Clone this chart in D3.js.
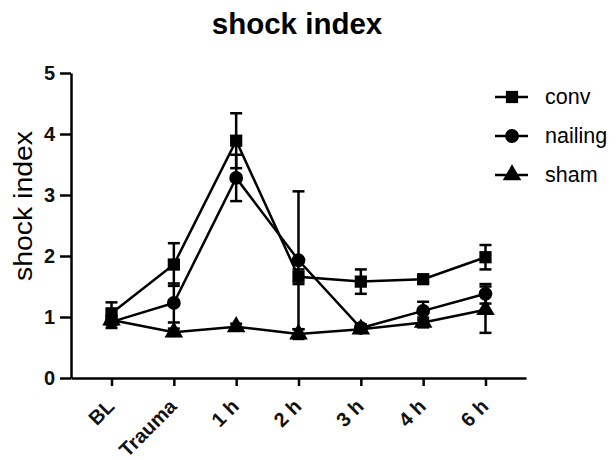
<!DOCTYPE html>
<html>
<head>
<meta charset="utf-8">
<script src="https://cdn.jsdelivr.net/npm/d3@7"></script>
<style>
  body { margin: 0; background: #fff; }
  text { font-family: "Liberation Sans", Arial, sans-serif; }
</style>
</head>
<body>
<div class="container"></div>
<script>
// data
const times = ['BL', 'Trauma', '1 h', '2 h', '3 h', '4 h', '6 h'];
const conv = [1.06, 1.86, 3.89, 1.66, 1.58, 1.62, 1.98];
const convErr = [0.18, 0.35, 0.45, 0.12, 0.2, 0.05, 0.2];
const nailing = [0.92, 1.23, 3.28, 1.93, 0.82, 1.1, 1.38];
const nailingErr = [0.1, 0.32, 0.38, 1.13, 0.06, 0.15, 0.16];
const sham = [0.95, 0.75, 0.84, 0.72, 0.8, 0.91, 1.12];
const shamErr = [0.06, 0.06, 0.05, 0.08, 0.05, 0.08, 0.38];
const yTicks = [0, 1, 2, 3, 4, 5];

const series = [
  {name: 'conv', values: conv, err: convErr, symbol: d3.symbolSquare},
  {name: 'nailing', values: nailing, err: nailingErr, symbol: d3.symbolCircle},
  {name: 'sham', values: sham, err: shamErr, symbol: d3.symbolTriangle}
];

// initial setup
const w = 616;
const h = 460;
const [margin_top, margin_left, margin_bottom, margin_right] = [73, 71, 82, 90];
const plotWidth = w - margin_left - margin_right;
const plotHeight = h - margin_top - margin_bottom;

const svg = d3.select('.container')
              .append('svg')
              .attr('width', w)
              .attr('height', h);
const plot = svg.append('g')
                .attr('transform', `translate(${margin_left}, ${margin_top})`);

const x = d3.scalePoint()
            .domain(times)
            .range([0, plotWidth])
            .padding(0.65);
const y = d3.scaleLinear()
            .domain([0, 5])
            .range([plotHeight, 0]);

// axes
const xAxis = d3.axisBottom(x).tickSize(8).tickSizeOuter(0);
const yAxis = d3.axisLeft(y)
                .tickValues(yTicks)
                .tickFormat(d3.format('d'))
                .tickSize(11)
                .tickSizeOuter(0)
                .tickPadding(5);

const xGroup = plot.append('g')
                   .attr('transform', `translate(0, ${plotHeight})`)
                   .call(xAxis);
const yGroup = plot.append('g').call(yAxis);

[xGroup, yGroup].forEach(g => {
  g.selectAll('path, line').attr('stroke', '#000').attr('stroke-width', 2.5);
  g.selectAll('text').attr('fill', '#111').style('font-weight', 'bold').style('font-size', '20px');
});

xGroup.selectAll('text')
      .attr('transform', 'rotate(-45)')
      .attr('text-anchor', 'end')
      .attr('x', -18.5)
      .attr('y', 16.5)
      .attr('dy', '0.35em');

// lines
const line = d3.line()
               .x((d, i) => x(times[i]))
               .y(d => y(d));

const sym = d3.symbol().size(150);

series.forEach(s => {
  const g = plot.append('g');
  // error bars
  const eb = g.selectAll('.err')
              .data(s.values)
              .enter()
              .append('g')
              .attr('stroke', '#000')
              .attr('stroke-width', 2.5);
  eb.append('line')
    .attr('x1', (d, i) => x(times[i]))
    .attr('x2', (d, i) => x(times[i]))
    .attr('y1', (d, i) => y(d + s.err[i]))
    .attr('y2', (d, i) => y(d - s.err[i]));
  eb.append('line')
    .attr('x1', (d, i) => x(times[i]) - 6)
    .attr('x2', (d, i) => x(times[i]) + 6)
    .attr('y1', (d, i) => y(d + s.err[i]))
    .attr('y2', (d, i) => y(d + s.err[i]));
  eb.append('line')
    .attr('x1', (d, i) => x(times[i]) - 6)
    .attr('x2', (d, i) => x(times[i]) + 6)
    .attr('y1', (d, i) => y(d - s.err[i]))
    .attr('y2', (d, i) => y(d - s.err[i]));

  g.append('path')
   .datum(s.values)
   .attr('fill', 'none')
   .attr('stroke', '#000')
   .attr('stroke-width', 2.5)
   .attr('d', line);

  g.selectAll('.pt')
   .data(s.values)
   .enter()
   .append('path')
   .attr('transform', (d, i) => `translate(${x(times[i])}, ${y(d)})`)
   .attr('d', sym.type(s.symbol)())
   .attr('fill', '#000');
});

// title
svg.append('text')
   .attr('x', 297)
   .attr('y', 34)
   .attr('text-anchor', 'middle')
   .style('font-weight', 'bold')
   .style('font-size', '29.5px')
   .text('shock index');

// y label
svg.append('text')
   .attr('transform', 'translate(32, 206) rotate(-90)')
   .attr('text-anchor', 'middle')
   .attr('textLength', 150)
   .attr('lengthAdjust', 'spacingAndGlyphs')
   .style('font-size', '25px')
   .text('shock index');

// legend
const legend = svg.append('g').attr('transform', 'translate(495, 97)');
series.forEach((s, i) => {
  const row = legend.append('g').attr('transform', `translate(0, ${i * 39})`);
  row.append('line')
     .attr('x1', 0).attr('x2', 33)
     .attr('stroke', '#000').attr('stroke-width', 2.5);
  row.append('path')
     .attr('transform', 'translate(17, 0)')
     .attr('d', sym.type(s.symbol)())
     .attr('fill', '#000');
  row.append('text')
     .attr('x', 50)
     .attr('y', 7)
     .style('font-size', '21.5px')
     .text(s.name);
});
</script>
</body>
</html>
